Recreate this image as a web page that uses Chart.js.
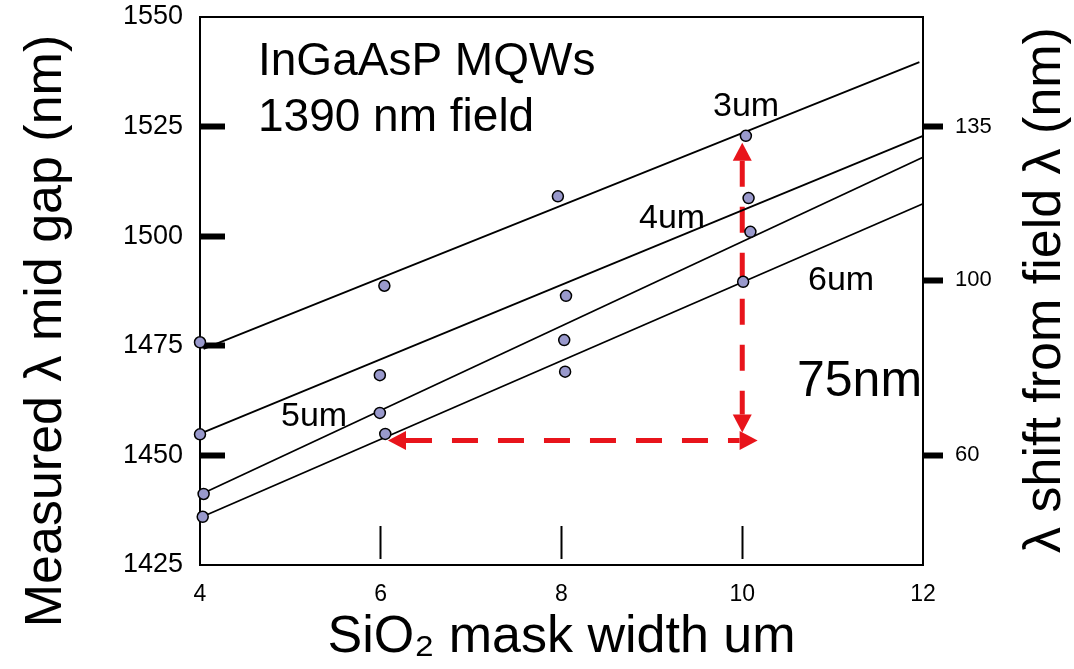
<!DOCTYPE html>
<html>
<head>
<meta charset="utf-8">
<script src="https://cdn.jsdelivr.net/npm/chart.js@4.4.1/dist/chart.umd.min.js"></script>
<style>
  html, body { margin: 0; padding: 0; background: #fff; }
  #wrap { width: 1074px; height: 669px; position: relative; }
</style>
</head>
<body>
<div id="wrap"><canvas id="gapChart"></canvas></div>
<script>
// Measured mid-gap wavelength vs SiO2 mask width, one series per stripe opening
const series = ['3um', '4um', '5um', '6um'];

const x3um = [4.00, 6.04, 7.96, 10.04];
const y3um = [1475.8, 1488.7, 1509.1, 1522.9];
const x4um = [4.00, 5.99, 8.05, 10.07];
const y4um = [1454.8, 1468.3, 1486.4, 1508.7];
const x5um = [4.04, 5.99, 8.03, 10.09];
const y5um = [1441.2, 1459.7, 1476.3, 1501.0];
const x6um = [4.03, 6.05, 8.04, 10.01];
const y6um = [1436.0, 1454.9, 1469.1, 1489.6];

// fitted lines as drawn on the slide (end points)
const fitX3um = [4.04, 11.96];
const fitY3um = [1474.3, 1539.7];
const fitX4um = [4.03, 12.0];
const fitY4um = [1455.2, 1522.9];
const fitX5um = [4.07, 12.0];
const fitY5um = [1441.7, 1518.0];
const fitX6um = [4.07, 12.0];
const fitY6um = [1436.4, 1507.4];

// tick labels
const widthTicks = [4, 6, 8, 10, 12];
const gapTicks = [1425, 1450, 1475, 1500, 1525, 1550];
const shiftTicks = [60, 100, 135];

// the 75nm double arrows, in data units
const arrowX1 = [10.0, 6.08];
const arrowY1 = [1521.3, 1453.4];
const arrowX2 = [10.0, 10.17];
const arrowY2 = [1455.2, 1453.4];

const RED = '#e8141b';
const DOT = '#9999cc';
const FONT = "'Liberation Sans', Arial, sans-serif";

Chart.defaults.font.family = FONT;
Chart.defaults.color = '#000';

function pts(xs, ys) {
    return xs.map((v, i) => ({ x: v, y: ys[i] }));
}

function tickIn(c, list) {
    return c.tick && list.indexOf(c.tick.value) !== -1;
}

// pin the plot box to where it sits on the slide
function pinSize(w, h) {
    return s => {
        if (w !== null) s.width = w;
        if (h !== null) s.height = h;
        s.paddingTop = 0;
        s.paddingBottom = 0;
        s.paddingLeft = 0;
        s.paddingRight = 0;
    };
}

const dotSets = [[x3um, y3um], [x4um, y4um], [x5um, y5um], [x6um, y6um]].map((p, i) => ({
    label: series[i],
    data: pts(p[0], p[1]),
    order: 0,
    pointRadius: 5.5,
    pointBackgroundColor: DOT,
    pointBorderColor: '#000',
    pointBorderWidth: 1.5,
    clip: false
}));

const fitSets = [[fitX3um, fitY3um], [fitX4um, fitY4um], [fitX5um, fitY5um], [fitX6um, fitY6um]].map((p, i) => ({
    label: series[i] + ' fit',
    data: pts(p[0], p[1]),
    order: 1,
    showLine: true,
    borderColor: '#000',
    borderWidth: 1.8,
    pointRadius: 0,
    clip: false
}));

// free text on the slide
const notes = [
    { text: 'InGaAsP MQWs', x: 258, y: 62, size: 46 },
    { text: '1390 nm field', x: 258, y: 118, size: 46 },
    { text: '3um', x: 713, y: 107, size: 34 },
    { text: '4um', x: 639, y: 219, size: 34 },
    { text: '6um', x: 808, y: 281, size: 34 },
    { text: '5um', x: 281, y: 417, size: 34 },
    { text: '75nm', x: 797, y: 382, size: 50 }
];

function arrowHead(ctx, tx, ty, ux, uy, len, half) {
    ctx.beginPath();
    ctx.moveTo(tx, ty);
    ctx.lineTo(tx - ux * len - uy * half, ty - uy * len + ux * half);
    ctx.lineTo(tx - ux * len + uy * half, ty - uy * len - ux * half);
    ctx.closePath();
    ctx.fill();
}

const slideExtras = {
    id: 'slideExtras',
    beforeDatasetsDraw(chart) {
        const { ctx, scales: { x, y } } = chart;
        const head = 18;
        ctx.save();
        ctx.strokeStyle = RED;
        ctx.fillStyle = RED;
        ctx.lineWidth = 5;
        for (let i = 0; i < arrowX1.length; i++) {
            const ax = x.getPixelForValue(arrowX1[i]);
            const ay = y.getPixelForValue(arrowY1[i]);
            const bx = x.getPixelForValue(arrowX2[i]);
            const by = y.getPixelForValue(arrowY2[i]);
            const len = Math.hypot(bx - ax, by - ay);
            const ux = (bx - ax) / len, uy = (by - ay) / len;
            ctx.setLineDash([26, 20]);
            ctx.beginPath();
            ctx.moveTo(ax + ux * head, ay + uy * head);
            ctx.lineTo(bx - ux * head, by - uy * head);
            ctx.stroke();
            ctx.setLineDash([]);
            arrowHead(ctx, ax, ay, -ux, -uy, head, 9.5);
            arrowHead(ctx, bx, by, ux, uy, head, 9.5);
        }
        ctx.restore();
    },
    afterDraw(chart) {
        const ctx = chart.ctx;
        ctx.save();
        ctx.fillStyle = '#000';
        ctx.textAlign = 'left';
        ctx.textBaseline = 'middle';
        notes.forEach(n => {
            ctx.font = n.size + 'px ' + FONT;
            ctx.fillText(n.text, n.x, n.y);
        });

        // axis titles on both sides read bottom to top
        ctx.textAlign = 'center';
        ctx.textBaseline = 'alphabetic';
        ctx.font = '52px ' + FONT;
        ctx.save();
        ctx.translate(61, 331);
        ctx.rotate(-Math.PI / 2);
        ctx.fillText('Measured \u03bb mid gap (nm)', 0, 0);
        ctx.restore();

        ctx.font = '52px ' + FONT;
        ctx.save();
        ctx.translate(1060, 290);
        ctx.rotate(-Math.PI / 2);
        ctx.fillText('\u03bb shift from field \u03bb (nm)', 0, 0);
        ctx.restore();
        ctx.restore();
    }
};

new Chart(document.getElementById('gapChart'), {
    type: 'scatter',
    data: { datasets: dotSets.concat(fitSets) },
    options: {
        responsive: true,
        maintainAspectRatio: false,
        animation: false,
        events: [],
        layout: { padding: 0 },
        plugins: {
            legend: { display: false },
            tooltip: { enabled: false }
        },
        scales: {
            x: {
                type: 'linear',
                position: 'bottom',
                min: 4,
                max: 12,
                afterBuildTicks: s => { s.ticks = widthTicks.map(v => ({ value: v })); },
                afterFit: pinSize(null, 104),
                ticks: { font: { size: 23 }, color: '#000', padding: 56, callback: v => String(v) },
                grid: {
                    drawOnChartArea: false,
                    tickLength: -40,
                    tickWidth: 2,
                    tickColor: c => tickIn(c, [6, 8, 10]) ? '#000' : 'rgba(0,0,0,0)',
                    tickBorderDash: [0, 7, 33, 100]
                },
                border: { color: '#000', width: 2 },
                title: {
                    display: true,
                    text: 'SiO\u2082 mask width um',
                    font: { size: 52 },
                    color: '#000',
                    padding: { top: 0, bottom: 0 }
                }
            },
            x2: {
                type: 'linear',
                position: 'top',
                min: 4,
                max: 12,
                ticks: { display: false },
                grid: { display: false },
                border: { color: '#000', width: 2 },
                afterFit: pinSize(null, 17)
            },
            y: {
                type: 'linear',
                position: 'left',
                min: 1425,
                max: 1550,
                afterBuildTicks: s => { s.ticks = gapTicks.map(v => ({ value: v })); },
                afterFit: pinSize(200, null),
                ticks: { font: { size: 27 }, color: '#000', padding: 42, callback: v => String(v) },
                grid: {
                    drawOnChartArea: false,
                    tickLength: -25,
                    tickWidth: 6,
                    tickColor: c => tickIn(c, [1450, 1475, 1500, 1525]) ? '#000' : 'rgba(0,0,0,0)'
                },
                border: { color: '#000', width: 2 }
            },
            y2: {
                type: 'linear',
                position: 'right',
                min: 35,
                max: 160,
                afterBuildTicks: s => { s.ticks = shiftTicks.map(v => ({ value: v })); },
                afterFit: pinSize(151, null),
                ticks: { font: { size: 22 }, color: '#000', padding: 12, callback: v => String(v) },
                grid: {
                    drawOnChartArea: false,
                    tickLength: 20,
                    tickWidth: 6,
                    tickColor: '#000'
                },
                border: { color: '#000', width: 2 }
            }
        }
    },
    plugins: [slideExtras]
});
</script>
</body>
</html>
